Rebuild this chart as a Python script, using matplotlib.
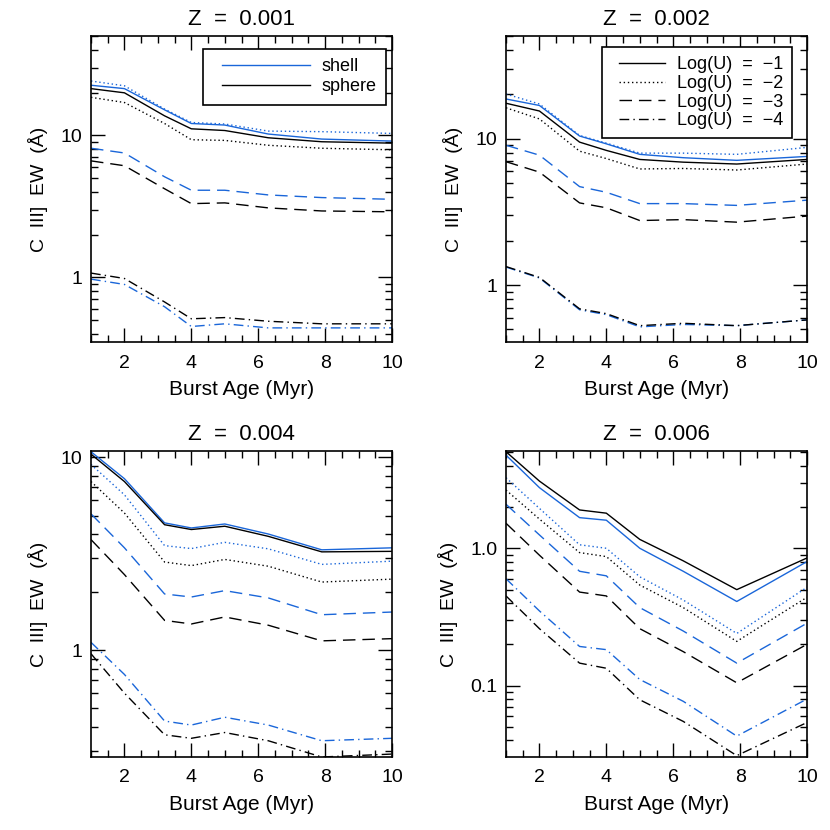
import matplotlib
matplotlib.use("Agg")
import matplotlib.pyplot as plt
from matplotlib.ticker import FixedLocator, FixedFormatter, LogLocator, NullFormatter, MultipleLocator
from matplotlib.lines import Line2D
from matplotlib.legend_handler import HandlerLine2D

plt.rcParams['font.family'] = ['Liberation Sans', 'DejaVu Sans']

ages = [1, 2, 3.2, 4, 5, 6.3, 7.9, 10]

titles = ["Z  =  0.001", "Z  =  0.002", "Z  =  0.004", "Z  =  0.006"]
logu_labels = ["Log(U)  =  \u22121", "Log(U)  =  \u22122", "Log(U)  =  \u22123", "Log(U)  =  \u22124"]

# Z = 0.001
z1_shell = [
    [22.5, 21.3, 15.1, 12.1, 11.8, 10.2, 9.4, 9.1],
    [24.1, 22.3, 15.3, 12.3, 12.0, 10.7, 10.6, 10.3],
    [8.1, 7.5, 5.1, 4.1, 4.1, 3.8, 3.64, 3.54],
    [0.97, 0.89, 0.62, 0.45, 0.47, 0.44, 0.44, 0.44],
]
z1_sphere = [
    [21.3, 19.9, 13.7, 11.1, 10.8, 9.6, 9.0, 8.8],
    [18.5, 17.0, 12.1, 9.3, 9.2, 8.5, 8.1, 7.9],
    [6.6, 6.1, 4.2, 3.3, 3.34, 3.08, 2.93, 2.89],
    [1.07, 0.98, 0.67, 0.51, 0.52, 0.49, 0.47, 0.47],
]
# Z = 0.002
z2_shell = [
    [18.6, 16.8, 10.4, 9.2, 7.8, 7.4, 7.1, 7.55],
    [20.1, 17.2, 10.5, 9.3, 7.95, 7.95, 7.8, 8.7],
    [9.0, 7.7, 4.7, 4.3, 3.6, 3.6, 3.5, 3.8],
    [1.33, 1.12, 0.68, 0.63, 0.52, 0.54, 0.53, 0.58],
]
z2_sphere = [
    [17.4, 15.4, 9.45, 8.3, 7.2, 6.9, 6.7, 7.2],
    [16.2, 13.6, 8.2, 7.3, 6.2, 6.25, 6.1, 6.7],
    [6.95, 5.9, 3.64, 3.37, 2.76, 2.8, 2.69, 2.96],
    [1.34, 1.13, 0.69, 0.64, 0.53, 0.55, 0.53, 0.58],
]
# Z = 0.004
z3_shell = [
    [10.7, 7.76, 4.58, 4.31, 4.52, 4.01, 3.32, 3.40],
    [9.2, 6.4, 3.49, 3.37, 3.63, 3.36, 2.79, 2.90],
    [5.1, 3.4, 1.96, 1.89, 2.04, 1.87, 1.53, 1.58],
    [1.10, 0.75, 0.43, 0.41, 0.45, 0.41, 0.34, 0.35],
]
z3_sphere = [
    [10.4, 7.5, 4.48, 4.23, 4.40, 3.90, 3.24, 3.26],
    [7.5, 5.15, 2.87, 2.75, 2.96, 2.73, 2.26, 2.34],
    [3.75, 2.47, 1.43, 1.37, 1.49, 1.35, 1.12, 1.15],
    [0.96, 0.60, 0.365, 0.35, 0.375, 0.34, 0.28, 0.29],
]
# Z = 0.006
z4_shell = [
    [4.76, 2.76, 1.67, 1.60, 1.0, 0.68, 0.41, 0.80],
    [3.26, 1.95, 1.06, 1.0, 0.62, 0.42, 0.24, 0.52],
    [2.09, 1.25, 0.68, 0.63, 0.37, 0.25, 0.146, 0.285],
    [0.60, 0.35, 0.193, 0.183, 0.111, 0.077, 0.043, 0.080],
]
z4_sphere = [
    [5.04, 3.08, 1.90, 1.80, 1.16, 0.81, 0.50, 0.85],
    [2.65, 1.63, 0.93, 0.87, 0.54, 0.37, 0.21, 0.44],
    [1.52, 0.89, 0.48, 0.45, 0.26, 0.177, 0.105, 0.20],
    [0.45, 0.26, 0.146, 0.134, 0.079, 0.055, 0.031, 0.054],
]

shells = [z1_shell, z2_shell, z3_shell, z4_shell]
spheres = [z1_sphere, z2_sphere, z3_sphere, z4_sphere]
ylims = [(0.35, 50), (0.41, 50), (0.28, 10.8), (0.0303, 5.1)]
yticks = [[1, 10], [1, 10], [1, 10], [0.1, 1.0]]
yticklabels = [["1", "10"], ["1", "10"], ["1", "10"], ["0.1", "1.0"]]

BLUE = '#1a66d9'
styles = ['-', (0, (1, 2)), (0, (9, 5)), (0, (7, 3, 1, 3))]

fig = plt.figure(figsize=(8.3, 8.3), dpi=100)
W, H = 830.0, 830.0
positions = [(91, 36), (506, 36), (91, 451), (506, 451)]
aw, ah = 301, 306

TFS = 14
LFS = 13
for i in range(4):
    x0, y0 = positions[i]
    ax = fig.add_axes([x0 / W, 1 - (y0 + ah) / H, aw / W, ah / H])
    for k in range(4):
        ax.plot(ages, shells[i][k], color=BLUE, lw=1.0, linestyle=styles[k])
        ax.plot(ages, spheres[i][k], color='black', lw=1.0, linestyle=styles[k])
    ax.set_yscale('log')
    ax.set_xlim(1, 10)
    ax.set_ylim(*ylims[i])
    ax.xaxis.set_major_locator(FixedLocator([2, 4, 6, 8, 10]))
    ax.xaxis.set_minor_locator(MultipleLocator(0.5))
    ax.yaxis.set_major_locator(FixedLocator(yticks[i]))
    ax.yaxis.set_major_formatter(FixedFormatter(yticklabels[i]))
    ax.yaxis.set_minor_locator(LogLocator(base=10, subs=[2, 3, 4, 5, 6, 7, 8, 9]))
    ax.yaxis.set_minor_formatter(NullFormatter())
    ax.tick_params(which='both', direction='in', top=True, right=True, labelsize=TFS, width=1.0)
    ax.tick_params(which='major', length=10)
    ax.tick_params(axis='x', which='major', pad=9)
    ax.tick_params(axis='y', which='major', pad=6)
    ax.tick_params(which='minor', length=5)
    for s in ax.spines.values():
        s.set_linewidth(1.2)
    ax.set_title(titles[i], fontsize=16, pad=8)
    ax.set_xlabel("Burst Age (Myr)", fontsize=15, labelpad=6)
    ax.set_ylabel("C  III]  EW  (\u00c5)", fontsize=14, labelpad=9)

    if i == 0:
        h = [Line2D([], [], color=BLUE, lw=1.0), Line2D([], [], color='black', lw=1.0)]
        leg = ax.legend(h, ["shell", "sphere"], loc='upper right', bbox_to_anchor=(0.98, 0.958),
                        borderaxespad=0, fontsize=LFS, handlelength=5.4, handletextpad=0.67,
                        labelspacing=0.2, fancybox=False, framealpha=1, edgecolor='black',
                        borderpad=0.5, handler_map={Line2D: HandlerLine2D(xpad=0.55)})
        leg.get_frame().set_linewidth(1.2)
    if i == 1:
        h = [Line2D([], [], color='black', lw=1.0, linestyle=s) for s in styles]
        leg = ax.legend(h, logu_labels, loc='upper right', bbox_to_anchor=(0.95, 0.964),
                        borderaxespad=0, fontsize=LFS, handlelength=2.95, handletextpad=0.67,
                        labelspacing=0.1, fancybox=False, framealpha=1, edgecolor='black',
                        borderpad=0.5, handler_map={Line2D: HandlerLine2D(xpad=0.45)})
        leg.get_frame().set_linewidth(1.2)

fig.savefig("out.png", dpi=100)
